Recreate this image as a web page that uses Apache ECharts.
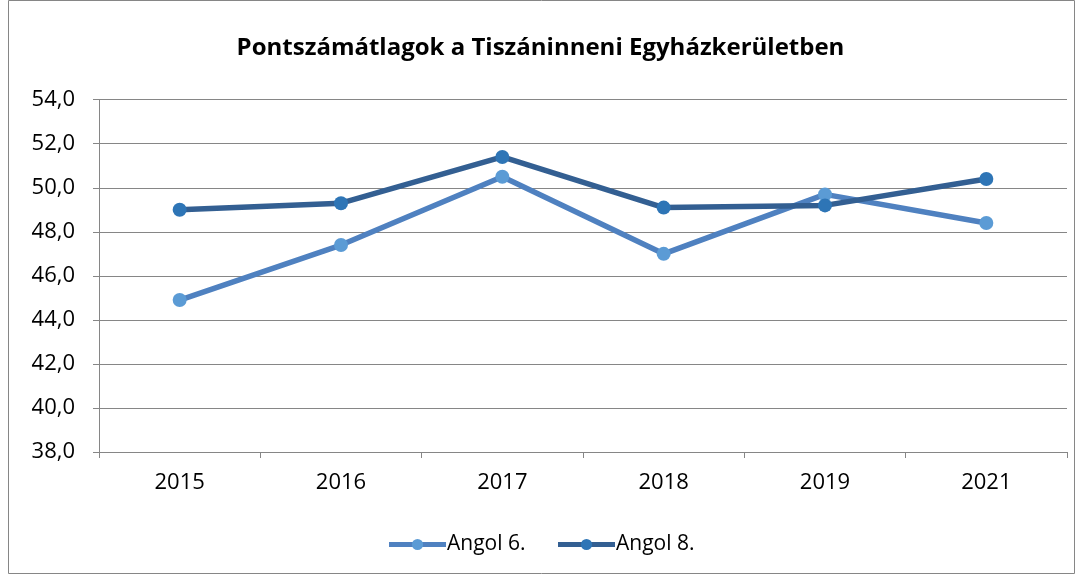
<!DOCTYPE html>
<html><head><meta charset="utf-8">
<script src="https://cdn.jsdelivr.net/npm/echarts@6/dist/echarts.min.js"></script>
<style>html,body{margin:0;padding:0;background:#fff}#c{width:1081px;height:575px}</style>
</head><body><div id="c"></div>
<script>
const categories = ['2015','2016','2017','2018','2019','2021'];
const angol6 = [44.9, 47.4, 50.5, 47.0, 49.7, 48.4];
const angol8 = [49.0, 49.3, 51.4, 49.1, 49.2, 50.4];
const seriesNames = ['Angol 6.', 'Angol 8.'];
const titleText = 'Pontszámátlagok a Tiszáninneni Egyházkerületben';
const FONT = '"Open Sans", sans-serif';
const chart = echarts.init(document.getElementById('c'));
chart.setOption({
  animation: false,
  backgroundColor: '#fff',
  graphic: [{type:'rect', shape:{x:8.5,y:0.5,width:1066,height:573}, style:{fill:'none',stroke:'#868686',lineWidth:1}, silent:true}],
  title: {text: titleText, left: 'center', top: 31, textStyle:{fontFamily:FONT, fontSize:24, fontWeight:'bold', color:'#000'}},
  legend: {top: 529, left: 'center', itemWidth: 57, itemHeight: 14, itemGap: 30,
    lineStyle: {width: 5},
    textStyle:{fontFamily:FONT, fontSize:21, color:'#000', padding:[0,0,0,-4]},
    data: seriesNames},
  grid: {left: 99, right: 14, top: 99.7, bottom: 123},
  xAxis: {type:'category', data: categories, boundaryGap: true,
    axisLine:{lineStyle:{color:'#868686', width:1}},
    axisTick:{show:true, length:6, lineStyle:{color:'#868686'}},
    axisLabel:{fontFamily:FONT, fontSize:22, color:'#000', margin:20}},
  yAxis: {type:'value', min:38, max:54, interval:2,
    axisLine:{show:true, lineStyle:{color:'#868686', width:1}},
    axisTick:{show:true, length:6, lineStyle:{color:'#868686'}},
    splitLine:{lineStyle:{color:'#868686', width:1}},
    axisLabel:{fontFamily:FONT, fontSize:22, color:'#000', margin:24, formatter: v => v.toFixed(1).replace('.', ',')}},
  series: [
    {name: seriesNames[0], type:'line', data: angol6, symbol:'circle', symbolSize:14,
     lineStyle:{color:'#4F81C0', width:5.5}, itemStyle:{color:'#5B9BD5'}, color:'#5B9BD5'},
    {name: seriesNames[1], type:'line', data: angol8, symbol:'circle', symbolSize:14,
     lineStyle:{color:'#335F92', width:5.5}, itemStyle:{color:'#2E75B6'}, color:'#2E75B6'}
  ]
});
</script></body></html>
